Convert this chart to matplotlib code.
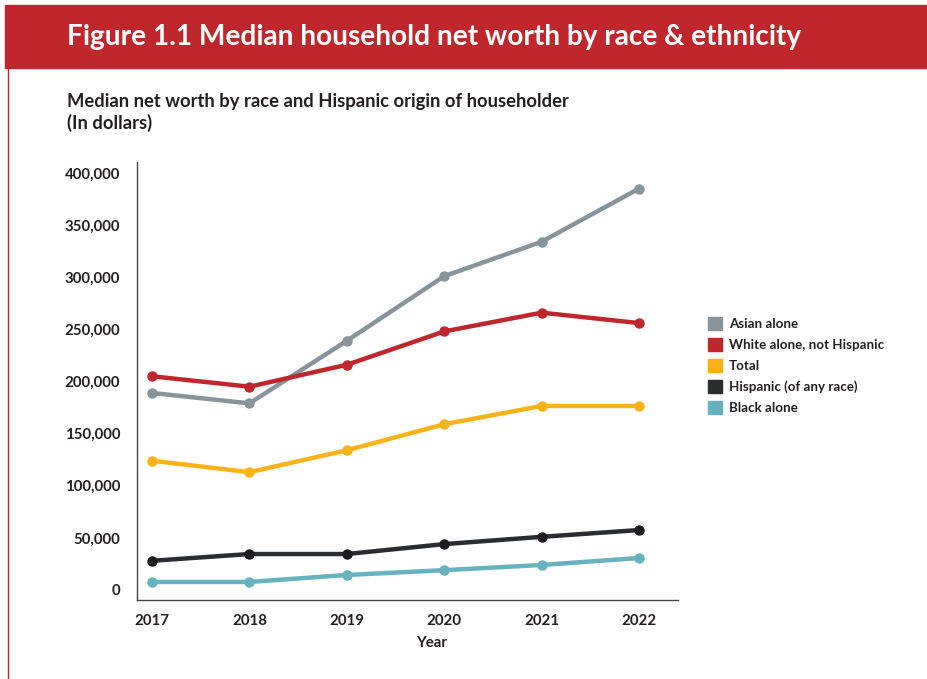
import matplotlib
matplotlib.use("Agg")
import matplotlib.pyplot as plt
from matplotlib.patches import Rectangle
from matplotlib.lines import Line2D
from matplotlib.ticker import FuncFormatter

years = [2017, 2018, 2019, 2020, 2021, 2022]
series_names = ["Asian alone", "White alone, not Hispanic", "Total",
                "Hispanic (of any race)", "Black alone"]
asian = [189000, 179000, 239000, 301000, 334000, 385000]
white = [205000, 195000, 216000, 248000, 266000, 256000]
total = [124000, 113000, 134000, 159000, 176500, 176500]
hispanic = [28000, 34500, 34500, 44000, 51000, 57500]
black = [7700, 7700, 14400, 19000, 24000, 30700]
yticks = [0, 50000, 100000, 150000, 200000, 250000, 300000, 350000, 400000]

colors = ["#87949A", "#C0272D", "#F9B218", "#2A2C30", "#66B2BE"]
marker_colors = ["#87949A", "#C0272D", "#F9B218", "#1E1C1E", "#66B2BE"]
data = [asian, white, total, hispanic, black]

plt.rcParams['font.family'] = ['Lato', 'DejaVu Sans']
dark = "#231F20"

fig = plt.figure(figsize=(9.28, 6.79), dpi=100)
W, H = 928, 679

# banner
fig.patches.append(Rectangle((5 / W, 1 - 68 / H), 1, 63 / H, transform=fig.transFigure,
                             color="#C0272D", zorder=0))
fig.lines.append(Line2D([7.5 / W, 7.5 / W], [0, 1 - 68 / H], transform=fig.transFigure,
                        color="#C0272D", lw=1.0))
fig.text(67 / W, 1 - 37 / H, "Figure 1.1 Median household net worth by race & ethnicity",
         color="white", fontsize=20.2, fontweight="bold", va="center", ha="left")
fig.text(67 / W, 1 - 102 / H, "Median net worth by race and Hispanic origin of householder",
         color=dark, fontsize=13.2, fontweight="bold", va="center", ha="left")
fig.text(67 / W, 1 - 123 / H, "(In dollars)",
         color=dark, fontsize=13.2, fontweight="bold", va="center", ha="left")

ax = fig.add_axes([137 / W, 1 - 600 / H, (678 - 137) / W, (600 - 162) / H])
for vals, c, mc, name in zip(data, colors, marker_colors, series_names):
    ax.plot(years, vals, color=c, lw=3.2, marker="o", markersize=6.5,
            markerfacecolor=mc, markeredgecolor=mc, label=name, solid_capstyle="round")

ax.set_xlim(2016.846, 2022.40)
ax.set_ylim(-9600, 410500)
ax.set_xticks(years)
ax.set_yticks(yticks)
ax.yaxis.set_major_formatter(FuncFormatter(lambda v, p: f"{int(v):,}"))
ax.tick_params(axis="both", length=0, labelsize=10.8, colors=dark)
ax.tick_params(axis="y", pad=12)
ax.tick_params(axis="x", pad=10)
for lab in ax.get_xticklabels() + ax.get_yticklabels():
    lab.set_fontweight("bold")
for s in ["top", "right"]:
    ax.spines[s].set_visible(False)
for s in ["left", "bottom"]:
    ax.spines[s].set_color("#444444")
    ax.spines[s].set_linewidth(1.0)
fig.text(432 / W, 1 - 643 / H, "Year", fontsize=10.8, fontweight="bold", color=dark,
         ha="center", va="center")

handles = [Rectangle((0, 0), 1, 1, color=c) for c in colors]
leg = fig.legend(handles, series_names, loc="upper left",
                 bbox_to_anchor=(703 / W, 1 - 312 / H), frameon=False,
                 fontsize=9.6, handlelength=1.05, handleheight=1.05, handletextpad=0.5,
                 labelspacing=0.62, borderaxespad=0)
for t in leg.get_texts():
    t.set_fontweight("bold")
    t.set_color(dark)

fig.savefig("out.png", dpi=100)
